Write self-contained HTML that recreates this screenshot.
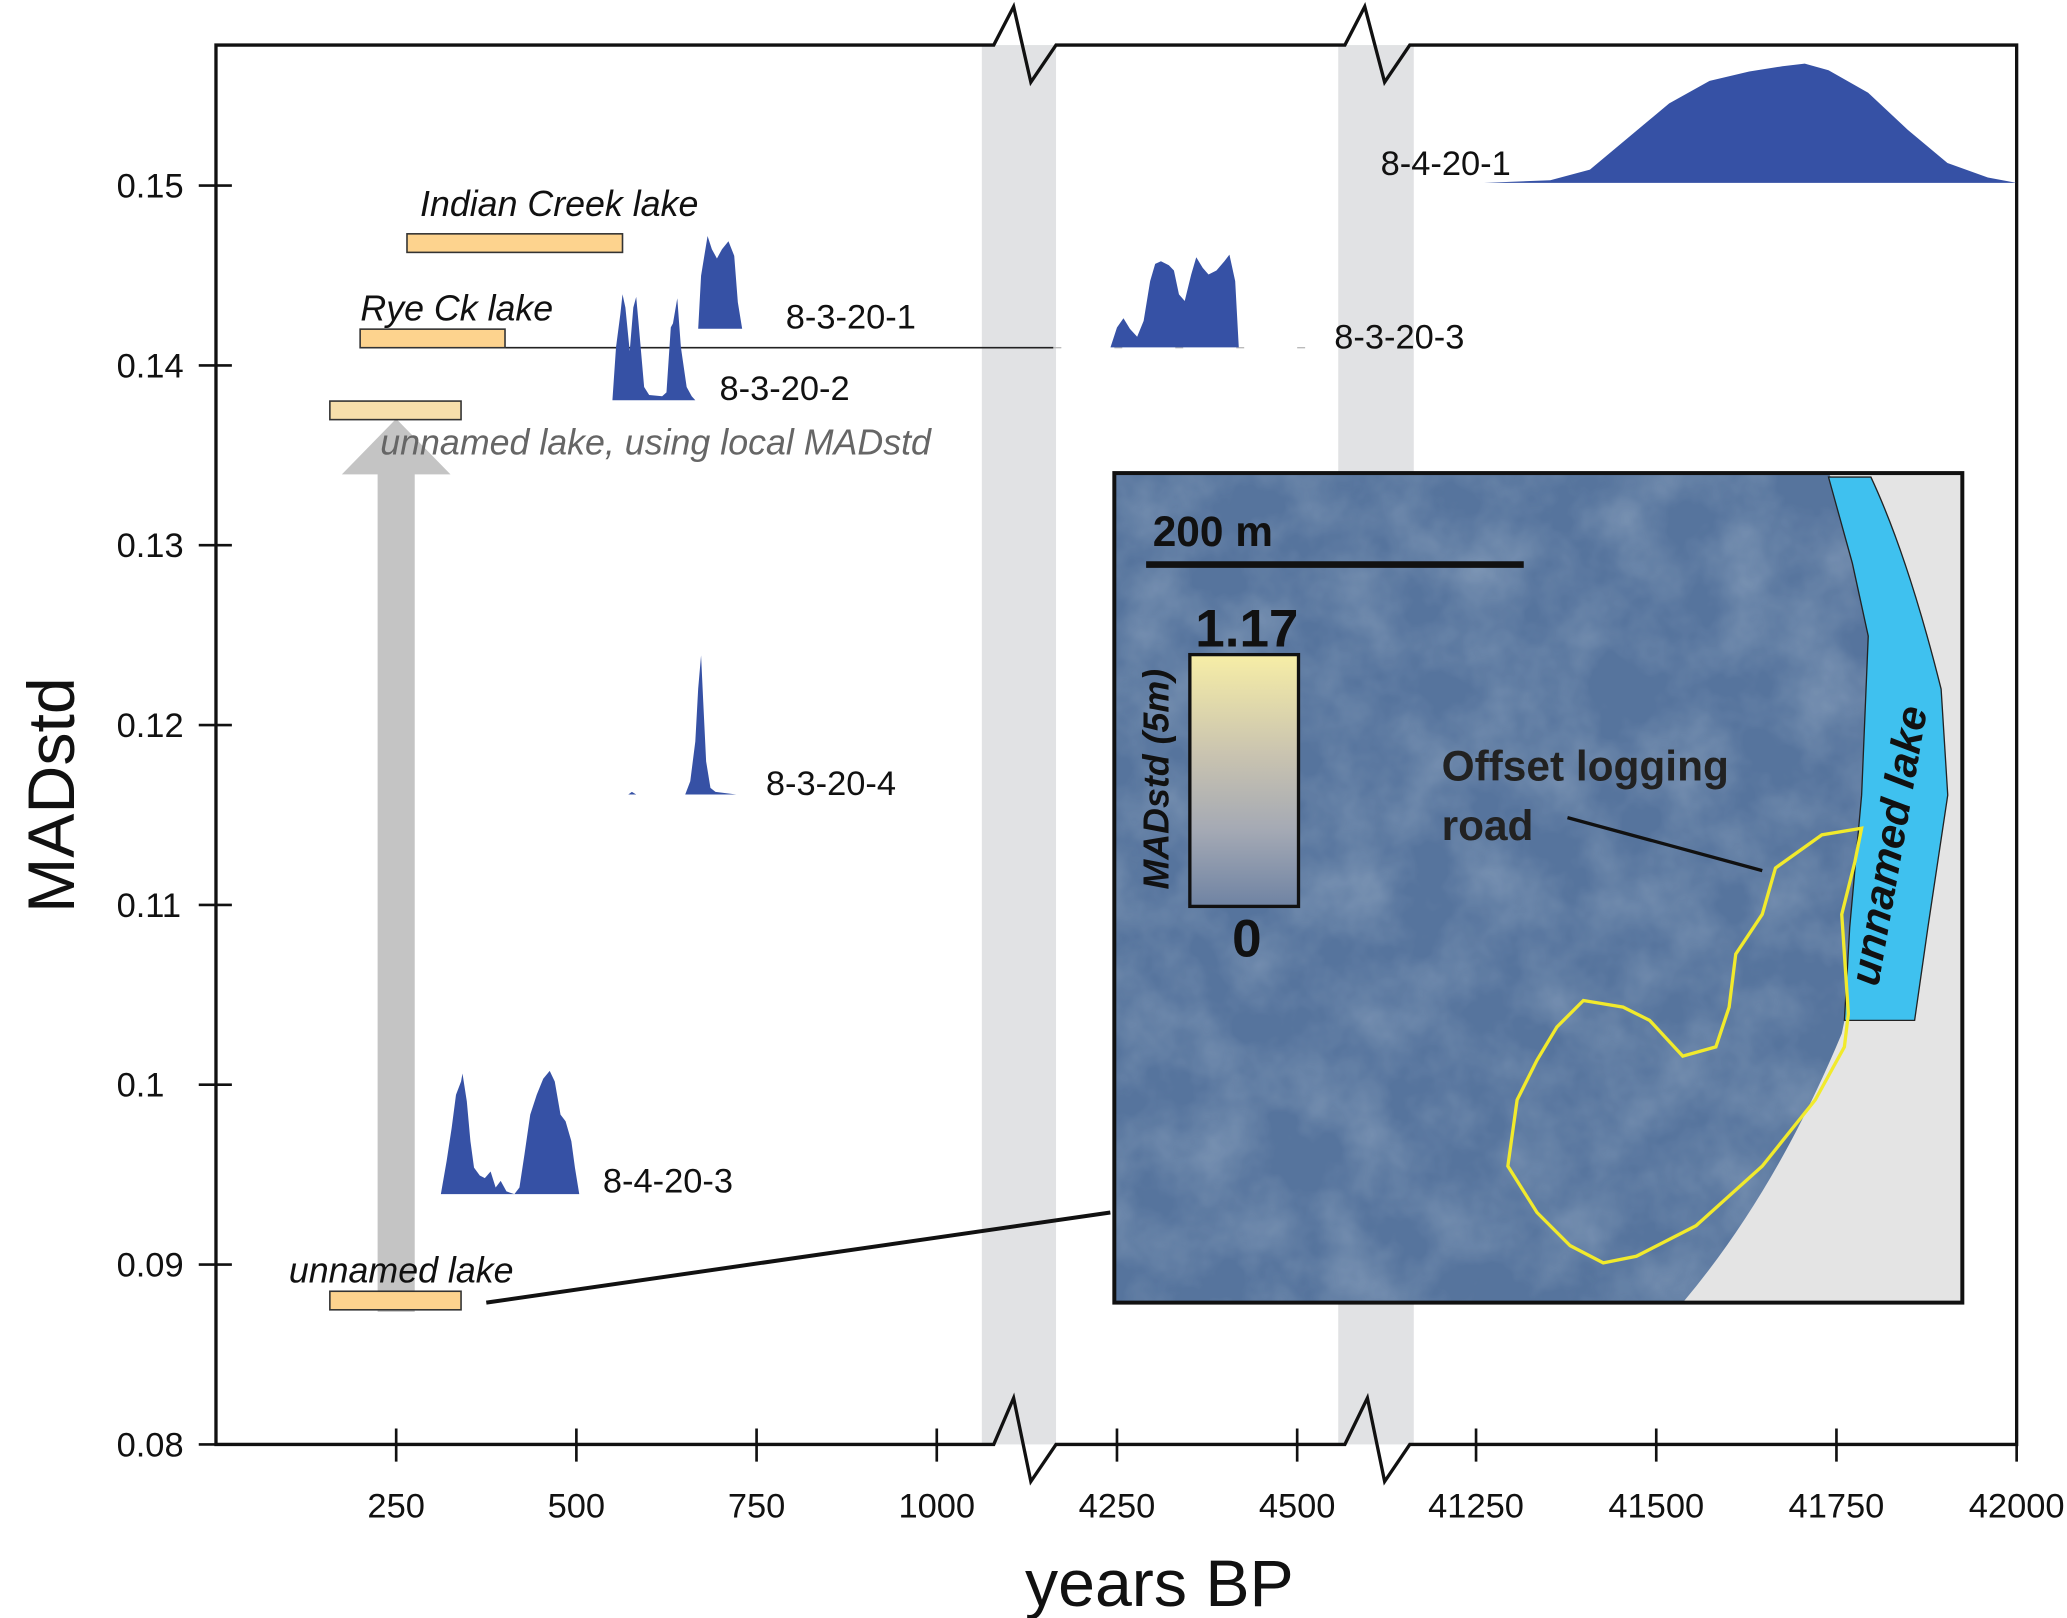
<!DOCTYPE html>
<html><head><meta charset="utf-8"><style>
html,body{margin:0;padding:0;background:#fff}
svg{display:block}
text{font-family:"Liberation Sans Narrow","Liberation Sans",sans-serif}
</style></head><body>
<svg id="chart" width="2067" height="1618" viewBox="0 0 1560 1221" preserveAspectRatio="none" xmlns="http://www.w3.org/2000/svg">
<defs>
<filter id="tex" x="0" y="0" width="100%" height="100%">
<feTurbulence type="fractalNoise" baseFrequency="0.02" numOctaves="4" seed="3"/>
<feColorMatrix type="matrix" values="0 0 0 0 0.25  0 0 0 0 0.35  0 0 0 0 0.5  0 0 0 1.4 -0.45"/>
</filter>
<linearGradient id="cbar" x1="0" y1="0" x2="0" y2="1">
<stop offset="0" stop-color="#f7eea6"/><stop offset="0.4" stop-color="#c9c3b0"/><stop offset="0.7" stop-color="#a4a9b4"/><stop offset="1" stop-color="#6f83a3"/>
</linearGradient>
<clipPath id="insetclip"><rect x="841" y="357" width="640" height="626"/></clipPath>
</defs>
<g id="bands"></g>
<g id="frame"></g>
<g id="bars"></g>
<g id="peaks"></g>
<g id="labels"></g>
<g id="inset"></g>
</svg>
<script>
const NS="http://www.w3.org/2000/svg";
const yTicks=[0.08,0.09,0.1,0.11,0.12,0.13,0.14,0.15];
const yTickLabels=["0.08","0.09","0.1","0.11","0.12","0.13","0.14","0.15"];
const xTicks=[250,500,750,1000,4250,4500,41250,41500,41750,42000];
const lakeNames=["Indian Creek lake","Rye Ck lake","unnamed lake, using local MADstd","unnamed lake"];
const lakeStart=[265,200,158,158];
const lakeEnd=[564,401,340,340];
const lakeValue=[0.1468,0.1415,0.1375,0.0880];
const sampleNames=["8-3-20-1","8-3-20-2","8-3-20-3","8-3-20-4","8-4-20-3","8-4-20-1"];
const sampleValue=[0.14204,0.13806,0.14100,0.11614,0.09392,0.15015];
const yrs1=[669,673,682,688,695,702,711,719,724,730,776];
const den1=[0,40,70,60,53,60,66,55,20,0,0];
const yrs2=[550,555,561,564,568,574,579,583,586,594,601,619,625,631,634,640,645,653,660,665];
const den2=[0,40,65,80,70,37,70,78,60,10,4,3,6,55,58,77,40,10,3,0];
const yrs3=[4241,4250,4259,4268,4278,4287,4296,4303,4311,4322,4329,4336,4344,4353,4360,4369,4377,4388,4399,4406,4414,4419];
const den3=[0,15,22,14,8,20,50,63,65,62,58,40,35,55,68,60,55,58,65,70,50,0];
const yrs4=[572,577,583,651,658,665,669,673,676,680,686,693,722];
const den4=[0,2,0,0,10,40,80,105,70,25,5,2,0];
const yrs5=[312,320,327,333,340,342,348,353,358,366,373,381,388,395,403,414,421,428,436,445,454,463,470,478,485,493,498,504];
const den5=[0,25,50,75,85,91,70,40,20,14,12,17,5,10,2,0,5,30,60,75,87,93,85,60,55,40,20,0];
const yrs6=[41261,41353,41408,41463,41518,41574,41629,41675,41706,41739,41794,41849,41904,41960,42000];
const den6=[0,2,10,35,60,77,84,88,90,85,68,40,15,4,0];

function X(v){ if(v<2000) return 163+v*0.544; if(v<10000) return 707+(v-4000)*0.544; return 978+(v-41000)*0.544; }
function Y(v){ return 1090-(v-0.08)*13571; }
function mk(tag,attrs,parent,txt){const e=document.createElementNS(NS,tag);for(const k in attrs)e.setAttribute(k,attrs[k]);if(txt!==undefined)e.textContent=txt;parent.appendChild(e);return e;}
const g=id=>document.getElementById(id);

// bands
let b=mk('rect',{x:741,y:34,width:56,height:1056,fill:'#e1e2e4'},g('bands'));


b=mk('rect',{x:1010,y:34,width:57,height:1056,fill:'#e1e2e4'},g('bands'));



// frame
const F=g('frame');
let p=mk('path',{d:'M163,34 L750,34 L765,5 L778,62 L797,34 L1015,34 L1030,5 L1045,62 L1064,34 L1522,34 L1522,1090 L1064,1090 L1045,1118 L1032,1055 L1015,1090 L797,1090 L778,1118 L765,1055 L750,1090 L163,1090 Z',fill:'none',stroke:'#111','stroke-width':2.5},F);


yTicks.forEach((t,i)=>{
 let l=mk('line',{x1:150,x2:175,y1:Y(t),y2:Y(t),stroke:'#111','stroke-width':2},F);
 
 
 let tx=mk('text',{x:88,y:Y(t)+9,'font-size':26,fill:'#111'},F,yTickLabels[i]);
 
 
});
xTicks.forEach(t=>{
 let x=X(t);
 let l=mk('line',{x1:x,x2:x,y1:1078,y2:1103,stroke:'#111','stroke-width':2},F);
 
 
 let tx=mk('text',{x:x,y:1145,'font-size':26,fill:'#111','text-anchor':'middle'},F,String(t));
 
 
});
let yt=mk('text',{x:0,y:0,'font-size':50,fill:'#111','text-anchor':'middle',transform:'translate(56,600) rotate(-90)'},F,'MADstd');


let xt=mk('text',{x:875,y:1212,'font-size':50,fill:'#111','text-anchor':'middle'},F,'years BP');



// gray arrow
let ar=mk('path',{d:'M285,990 L285,358 L258,358 L299,316 L340,358 L313,358 L313,990 Z',fill:'#c4c4c4'},F);



// rye line
let rl=mk('line',{x1:X(lakeEnd[1]),x2:795,y1:Y(lakeValue[1])+7,y2:Y(lakeValue[1])+7,stroke:'#222','stroke-width':1.2},F);


let rl2=mk('line',{x1:795,x2:985,y1:Y(lakeValue[1])+7,y2:Y(lakeValue[1])+7,stroke:'#bbb','stroke-width':1,'stroke-dasharray':'6 40'},F);



// lake bars
const lakeLabelPos=[[317,163],[272,242],[287,343],[218,968]];
lakeNames.forEach((n,i)=>{
 const x1=X(lakeStart[i]),x2=X(lakeEnd[i]),y=Y(lakeValue[i]);
 let r=mk('rect',{x:x1,y:y-7,width:x2-x1,height:14,fill:i==2?'#f7dfab':'#fdd38e',stroke:'#333','stroke-width':1.2},g('bars'));
 
 
 let t=mk('text',{x:lakeLabelPos[i][0],y:lakeLabelPos[i][1],'font-size':27,'font-style':'italic',fill:i==2?'#666':'#111'},g('labels'),n);
 
 
});

// peaks
const allY=[yrs1,yrs2,yrs3,yrs4,yrs5,yrs6], allD=[den1,den2,den3,den4,den5,den6];
const sLabelPos=[[593,248],[543,302],[1007,263],[578,600],[455,900],[1042,132]];
sampleNames.forEach((n,i)=>{
 const base=Y(sampleValue[i]);
 let d='M'+X(allY[i][0])+','+base;
 allY[i].forEach((yr,j)=>{d+=' L'+X(yr)+','+(base-allD[i][j]);});
 d+=' L'+X(allY[i][allY[i].length-1])+','+base+' Z';
 let pk=mk('path',{d:d,fill:'#3651a5'},g('peaks'));
 
 
 let t=mk('text',{x:sLabelPos[i][0],y:sLabelPos[i][1],'font-size':26,fill:'#111'},g('labels'),n);
 
 
});

// leader line to inset
let ll=mk('line',{x1:367,y1:983,x2:838,y2:915,stroke:'#111','stroke-width':3},g('labels'));



// inset
const I=g('inset');
const C=mk('g',{'clip-path':'url(#insetclip)'},I);
mk('rect',{x:841,y:357,width:640,height:626,fill:'#56749d'},C);
mk('rect',{x:841,y:357,width:640,height:626,filter:'url(#tex)',opacity:0.8},C);
let hs=mk('path',{d:'M1380,357 L1481,357 L1481,983 L1270,983 Q1340,900 1390,780 Q1420,640 1415,440 Q1400,390 1380,357 Z',fill:'#e4e4e4'},C);


let lk=mk('path',{d:'M1380,360 L1412,360 Q1440,420 1465,520 L1470,600 L1455,700 L1445,770 L1392,770 L1396,700 L1405,600 L1410,480 L1398,425 Z',fill:'#3fc1ef',stroke:'#222','stroke-width':1},C);


let yl=mk('polygon',{points:'1405,625 1375,630 1340,655 1330,690 1310,720 1305,760 1295,790 1270,797 1245,770 1225,760 1195,755 1175,775 1160,800 1145,830 1138,880 1160,915 1185,940 1210,953 1235,948 1280,925 1330,880 1370,830 1392,790 1395,765 1390,690 1400,650',fill:'none',stroke:'#f1ea2c','stroke-width':2.5},C);


let ib=mk('rect',{x:841,y:357,width:640,height:626,fill:'none',stroke:'#111','stroke-width':3},I);


let st=mk('text',{x:870,y:412,'font-size':32,'font-weight':'bold',fill:'#111'},I,'200 m');


let sb=mk('line',{x1:865,x2:1150,y1:426,y2:426,stroke:'#111','stroke-width':5},I);


let cb=mk('rect',{x:898,y:494,width:82,height:190,fill:'url(#cbar)',stroke:'#111','stroke-width':2.5},I);


let c1=mk('text',{x:941,y:488,'font-size':40,'font-weight':'bold',fill:'#111','text-anchor':'middle'},I,'1.17');


let c0=mk('text',{x:941,y:722,'font-size':40,'font-weight':'bold',fill:'#111','text-anchor':'middle'},I,'0');


let ct=mk('text',{x:0,y:0,'font-size':27,'font-weight':'bold','font-style':'italic',fill:'#111','text-anchor':'middle',transform:'translate(882,588) rotate(-90)'},I,'MADstd (5m)');


let o1=mk('text',{x:1088,y:589,'font-size':32,'font-weight':'bold',fill:'#222'},I,'Offset logging');


let o2=mk('text',{x:1088,y:634,'font-size':32,'font-weight':'bold',fill:'#222'},I,'road');


let ol=mk('line',{x1:1183,y1:617,x2:1330,y2:657,stroke:'#111','stroke-width':2.5},I);


let ul=mk('text',{x:0,y:0,'font-size':32,'font-weight':'bold','font-style':'italic',fill:'#111','text-anchor':'middle',transform:'translate(1436,640) rotate(-80)'},I,'unnamed lake');


</script>
</body></html>
